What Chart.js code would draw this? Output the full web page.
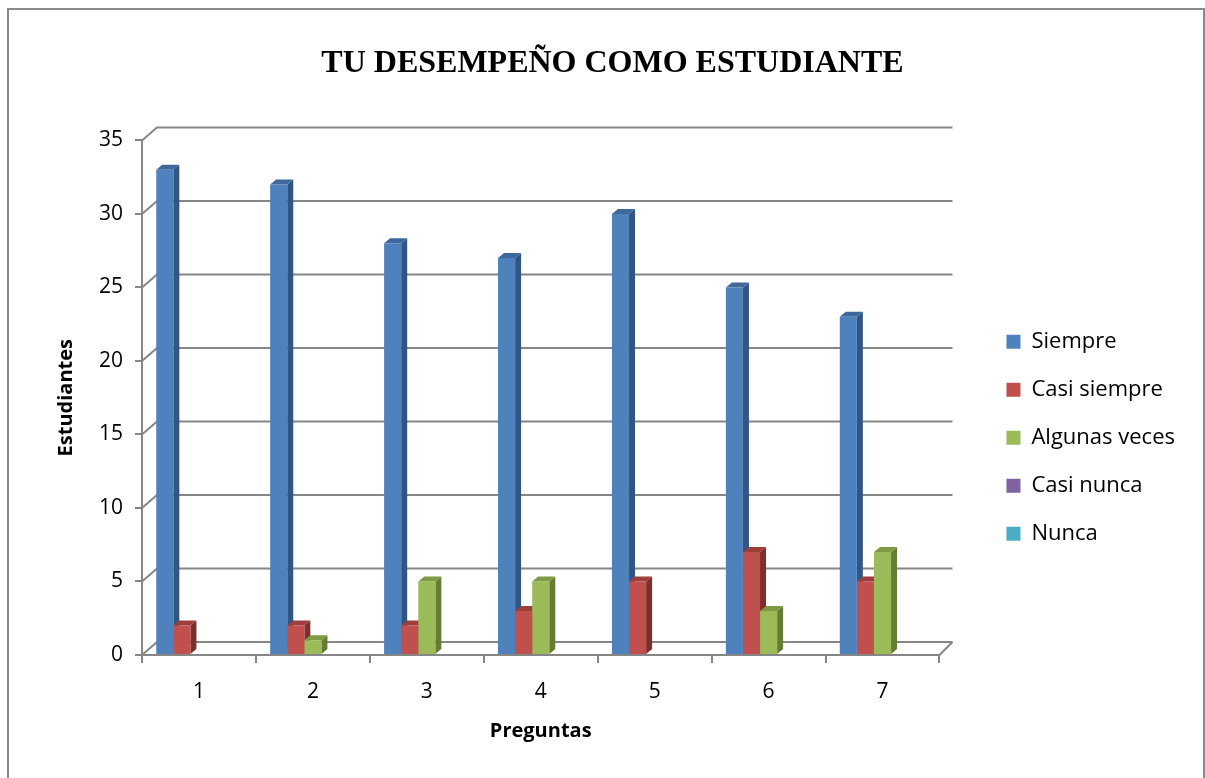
<!DOCTYPE html>
<html lang="es">
<head>
<meta charset="UTF-8">
<title>Tu desempeño como estudiante</title>
<script src="https://cdn.jsdelivr.net/npm/chart.js"></script>
<style>
  body { margin: 0; background: #fff; overflow: hidden; }
  #marco { position: absolute; left: 7px; top: 8px; width: 1194px; height: 800px; border: 2px solid #8a8a8a; }
  #grafico { position: absolute; left: 0; top: 0; }
</style>
</head>
<body>
<div id="marco"></div>
<canvas id="grafico" width="1205" height="778"></canvas>
<script>
const preguntas = ['1', '2', '3', '4', '5', '6', '7'];
const siempre = [33, 32, 28, 27, 30, 25, 23];
const casiSiempre = [2, 2, 2, 3, 5, 7, 5];
const algunasVeces = [0, 1, 5, 5, 0, 3, 7];
const casiNunca = [0, 0, 0, 0, 0, 0, 0];
const nunca = [0, 0, 0, 0, 0, 0, 0];
const ticksY = [0, 5, 10, 15, 20, 25, 30, 35];

const GRIS = '#868686';
const PROF_X = 6, PROF_Y = 5;     // fondo de las barras
const PARED_X = 15, PARED_Y = 13; // pared del fondo

Chart.defaults.font.family = '"Open Sans", sans-serif';
Chart.defaults.color = '#000';

function serie(nombre, datos, frente, lado, arriba) {
  return { label: nombre, data: datos, backgroundColor: frente, borderWidth: 0, lado: lado, arriba: arriba };
}

// rejilla en perspectiva y caras laterales/superiores de las barras
const efecto3d = {
  id: 'efecto3d',
  beforeDatasetsDraw(chart) {
    const { ctx, chartArea: a, scales: { y } } = chart;
    ctx.save();
    ctx.strokeStyle = GRIS;
    ctx.lineWidth = 2;
    ticksY.forEach(v => {
      const py = y.getPixelForValue(v);
      ctx.beginPath();
      ctx.moveTo(a.left, py);
      ctx.lineTo(a.left + PARED_X, py - PARED_Y);
      ctx.lineTo(a.right + PARED_Y, py - PARED_Y);
      ctx.stroke();
    });
    ctx.beginPath();
    ctx.moveTo(a.right, a.bottom);
    ctx.lineTo(a.right + PARED_Y, a.bottom - PARED_Y);
    ctx.stroke();

    chart.data.datasets.forEach((ds, di) => {
      chart.getDatasetMeta(di).data.forEach((bar, i) => {
        if (!ds.data[i]) return;
        const { x, y: top, base, width } = bar.getProps(['x', 'y', 'base', 'width'], true);
        const l = x - width / 2, r = x + width / 2;
        ctx.fillStyle = ds.lado;
        ctx.beginPath();
        ctx.moveTo(r, top);
        ctx.lineTo(r + PROF_X, top - PROF_Y);
        ctx.lineTo(r + PROF_X, base - PROF_Y);
        ctx.lineTo(r, base);
        ctx.closePath();
        ctx.fill();
        ctx.fillStyle = ds.arriba;
        ctx.beginPath();
        ctx.moveTo(l, top);
        ctx.lineTo(l + PROF_X, top - PROF_Y);
        ctx.lineTo(r + PROF_X, top - PROF_Y);
        ctx.lineTo(r, top);
        ctx.closePath();
        ctx.fill();
      });
    });
    ctx.restore();
  }
};

new Chart(document.getElementById('grafico'), {
  type: 'bar',
  data: {
    labels: preguntas,
    datasets: [
      serie('Siempre', siempre, '#4F81BD', '#325583', '#3E689C'),
      serie('Casi siempre', casiSiempre, '#C0504D', '#7D2F2D', '#9E3D3A'),
      serie('Algunas veces', algunasVeces, '#9BBB59', '#657C36', '#7E9A45'),
      serie('Casi nunca', casiNunca, '#8064A2', '#53416B', '#6A5387'),
      serie('Nunca', nunca, '#4BACC6', '#2F7285', '#3C8DA3')
    ]
  },
  options: {
    responsive: false,
    animation: false,
    layout: { padding: { top: 22, left: 40, right: 20, bottom: 25 } },
    datasets: { bar: { categoryPercentage: 0.75, barPercentage: 1 } },
    plugins: {
      title: {
        display: true,
        text: 'TU DESEMPEÑO COMO ESTUDIANTE',
        color: '#000',
        font: { family: '"Liberation Serif", serif', size: 32, weight: 'bold' },
        padding: { top: 23, bottom: 57 }
      },
      legend: {
        position: 'right',
        fullSize: false,
        maxWidth: 320,
        title: { display: true, text: '', font: { size: 10 }, padding: { top: 0, bottom: 68 } },
        labels: { boxWidth: 14, boxHeight: 14, padding: 26, font: { size: 22 } }
      },
      tooltip: { enabled: false }
    },
    scales: {
      x: {
        grid: { offset: true, drawOnChartArea: false, tickLength: 8, color: GRIS, lineWidth: 2 },
        border: { color: GRIS, width: 2 },
        ticks: { font: { size: 21 }, padding: 16 },
        title: { display: true, text: 'Preguntas', font: { size: 20, weight: 'bold' }, padding: { top: 0, bottom: 10 } },
        afterFit(s) { s.height = 98; }
      },
      y: {
        min: 0,
        max: 35,
        ticks: { stepSize: 5, font: { size: 21 }, padding: 12 },
        grid: { drawOnChartArea: false, tickLength: 7, color: GRIS, lineWidth: 2 },
        border: { color: GRIS, width: 2 },
        title: { display: true, text: 'Estudiantes', font: { size: 20, weight: 'bold' }, padding: { top: 14, bottom: 0 } },
        afterFit(s) { s.width = 102; }
      },
      hueco: {
        type: 'linear',
        position: 'right',
        grid: { display: false },
        ticks: { display: false },
        border: { display: false },
        afterFit(s) { s.width = 41; }
      }
    }
  },
  plugins: [efecto3d]
});
</script>
</body>
</html>
